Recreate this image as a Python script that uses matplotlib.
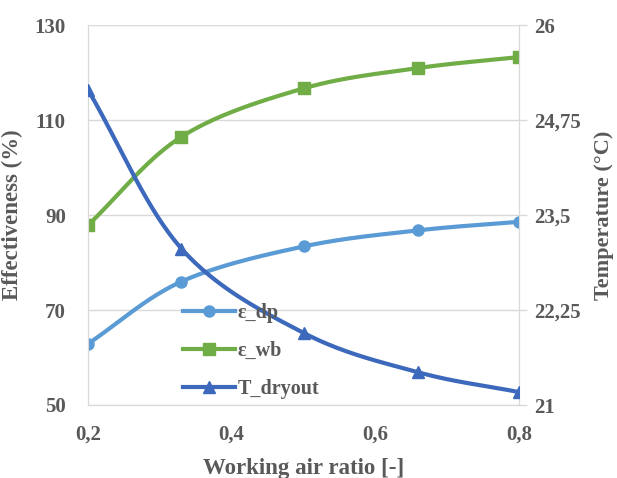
import numpy as np
import matplotlib
matplotlib.use("Agg")
import matplotlib.pyplot as plt
from matplotlib.ticker import FuncFormatter

# Working air ratio and results
ratio = [0.2, 0.33, 0.5, 0.66, 0.8]
eps_dp = [62.9, 76.0, 83.4, 86.8, 88.6]
eps_wb = [87.9, 106.5, 116.7, 121.0, 123.3]
t_dryout = [25.15, 23.06, 21.95, 21.43, 21.17]

left_ticks = [50, 70, 90, 110, 130]
right_ticks = [21, 22.25, 23.5, 24.75, 26]
x_ticks = [0.2, 0.4, 0.6, 0.8]

C_DP = "#5B9BD5"
C_WB = "#70AD47"
C_T = "#3D69BC"
GRID = "#D9D9D9"
TXT = "#595959"

plt.rcParams["font.family"] = ["Liberation Serif", "DejaVu Serif"]
plt.rcParams["font.weight"] = "bold"
plt.rcParams["axes.labelweight"] = "bold"


def smooth(x, y, n=40):
    """Catmull-Rom curve through the points (spreadsheet-style smoothed line)."""
    x = np.asarray(x, float)
    y = np.asarray(y, float)
    px = np.concatenate([[2 * x[0] - x[1]], x, [2 * x[-1] - x[-2]]])
    py = np.concatenate([[2 * y[0] - y[1]], y, [2 * y[-1] - y[-2]]])
    xs, ys = [], []
    t = np.linspace(0, 1, n)
    for i in range(1, len(px) - 2):
        p0, p1, p2, p3 = (np.array([px[j], py[j]]) for j in range(i - 1, i + 3))
        t2, t3 = t * t, t * t * t
        pts = 0.5 * ((2 * p1)[:, None] + (-p0 + p2)[:, None] * t
                     + (2 * p0 - 5 * p1 + 4 * p2 - p3)[:, None] * t2
                     + (-p0 + 3 * p1 - 3 * p2 + p3)[:, None] * t3)
        xs.extend(pts[0])
        ys.extend(pts[1])
    return np.array(xs), np.array(ys)


fig = plt.figure(figsize=(6.17, 4.78), dpi=100)
ax = fig.add_axes([88 / 617, 1 - 405 / 478, (519 - 88) / 617, (405 - 25.3) / 478])
ax2 = ax.twinx()

fmt = FuncFormatter(lambda v, p: ("%g" % v).replace(".", ","))

ax.set_xlim(0.2, 0.8)
ax.set_ylim(50, 130)
ax2.set_ylim(21, 26)
ax.set_yticks(left_ticks)
ax2.set_yticks(right_ticks)
ax.set_xticks(x_ticks)
ax.xaxis.set_major_formatter(fmt)
ax2.yaxis.set_major_formatter(fmt)

ax.grid(axis="y", color=GRID, lw=1.0)
ax.set_axisbelow(True)
for a in (ax, ax2):
    for s in a.spines.values():
        s.set_color(GRID)
    a.spines["top"].set_visible(False)
ax.tick_params(axis="both", labelsize=15, colors=TXT, length=0)
ax.tick_params(axis="y", pad=16)
ax.tick_params(axis="x", pad=14)
ax2.tick_params(axis="y", labelsize=15, colors=TXT, length=6, width=1, pad=5)
ax2.tick_params(axis="y", color=GRID)

lw = 3.0
sx, sy = smooth(ratio, eps_dp)
ax.plot(sx, sy, color=C_DP, lw=lw, solid_capstyle="round", zorder=3)
ax.plot(ratio, eps_dp, "o", color=C_DP, ms=8, zorder=4)
sx, sy = smooth(ratio, eps_wb)
ax.plot(sx, sy, color=C_WB, lw=lw, solid_capstyle="round", zorder=3)
ax.plot(ratio, eps_wb, "s", color=C_WB, ms=8, zorder=4)
sx, sy = smooth(ratio, t_dryout)
ax2.plot(sx, sy, color=C_T, lw=lw, solid_capstyle="round", zorder=3)
ax2.plot(ratio, t_dryout, "^", color=C_T, ms=9, zorder=4)

h1, = ax.plot([], [], "-o", color=C_DP, lw=lw, ms=8, label="ε_dp")
h2, = ax.plot([], [], "-s", color=C_WB, lw=lw, ms=8, label="ε_wb")
h3, = ax.plot([], [], "-^", color=C_T, lw=lw, ms=9, label="T_dryout")
leg = ax2.legend(handles=[h1, h2, h3], loc="upper left",
                 bbox_to_anchor=(0.202, 0.29), frameon=False, fontsize=14.5,
                 handlelength=2.6, handletextpad=0.1, labelspacing=0.9,
                 borderaxespad=0)
for t in leg.get_texts():
    t.set_color(TXT)

ax.set_xlabel("Working air ratio [-]", fontsize=16.5, color=TXT, labelpad=10)
ax.set_ylabel("Effectiveness (%)", fontsize=16.5, color=TXT, labelpad=8)
ax2.set_ylabel("Temperature (°C)", fontsize=16, color=TXT, labelpad=9)

fig.savefig("out.png", dpi=100)
